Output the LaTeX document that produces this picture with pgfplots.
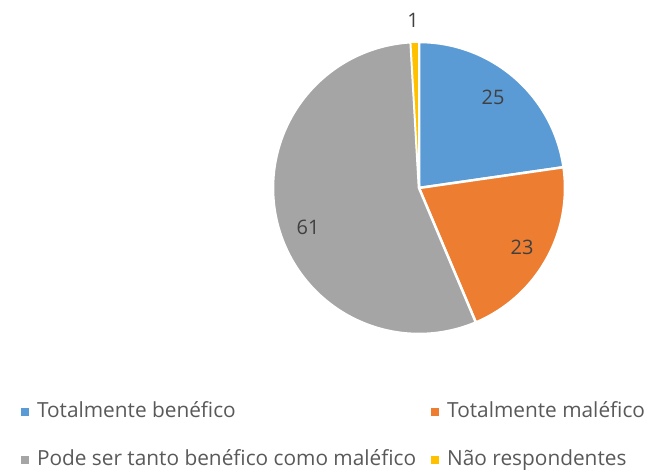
\documentclass[border=0pt]{standalone}
\usepackage{pgfplots}
\pgfplotsset{compat=1.18}
\usepackage{fontspec}
\setmainfont{Open Sans}
\definecolor{cBlue}{HTML}{5B9BD5}
\definecolor{cOrange}{HTML}{ED7D31}
\definecolor{cGray}{HTML}{A5A5A5}
\definecolor{cYellow}{HTML}{FFC000}
\definecolor{legtext}{HTML}{595959}
\definecolor{labtext}{HTML}{404040}
% data values
\newcommand\vA{25}
\newcommand\vB{23}
\newcommand\vC{61}
\newcommand\vD{1}
\begin{document}
\begin{tikzpicture}
\pgfmathsetmacro\tot{\vA+\vB+\vC+\vD}
\pgfmathsetmacro\aA{90}
\pgfmathsetmacro\aB{\aA-\vA/\tot*360}
\pgfmathsetmacro\aC{\aB-\vB/\tot*360}
\pgfmathsetmacro\aD{\aC-\vC/\tot*360}
\pgfmathsetmacro\aE{\aD-\vD/\tot*360}
\def\cx{419}\def\cy{279}\def\R{146}
\begin{axis}[
  width=650bp, height=467bp, scale only axis,
  xmin=0, xmax=650, ymin=0, ymax=467,
  hide axis, clip=false,
  legend columns=2,
  legend cell align=left,
  legend image code/.code={\fill[#1,draw=none] (0bp,-4bp) rectangle (8bp,4bp);},
  legend style={draw=none, fill=none, inner sep=0pt, outer sep=0pt,
    at={(axis cs:21,65)}, anchor=north west,
    font=\fontsize{20.9}{25}\selectfont, text=legtext,
    nodes={inner xsep=0pt, inner ysep=0pt, text height=15bp, text depth=4bp},
    row sep=29bp,
    /tikz/every odd column/.append style={column sep=8bp},
    /tikz/every even column/.append style={column sep=15bp}},
]
\path (axis cs:0,0) rectangle (axis cs:650,467);
\addplot[fill=cBlue, draw=white, line width=2.5bp, domain=\aB:\aA, samples=60, variable=\t]
  ({\cx+\R*cos(\t)},{\cy+\R*sin(\t)}) -- (axis cs:\cx,\cy) -- cycle;
\addlegendentry{Totalmente benéfico}
\addplot[fill=cOrange, draw=white, line width=2.5bp, domain=\aC:\aB, samples=60, variable=\t]
  ({\cx+\R*cos(\t)},{\cy+\R*sin(\t)}) -- (axis cs:\cx,\cy) -- cycle;
\addlegendentry{Totalmente maléfico}
\addplot[fill=cGray, draw=white, line width=2.5bp, domain=\aD:\aC, samples=120, variable=\t]
  ({\cx+\R*cos(\t)},{\cy+\R*sin(\t)}) -- (axis cs:\cx,\cy) -- cycle;
\addlegendentry{Pode ser tanto benéfico como maléfico}
\addplot[fill=cYellow, draw=white, line width=1.5bp, domain=\aE:\aD, samples=6, variable=\t]
  ({\cx+\R*cos(\t)},{\cy+\R*sin(\t)}) -- (axis cs:\cx,\cy) -- cycle;
\addlegendentry{Não respondentes}
\begin{scope}[every node/.style={font=\fontsize{20}{24}\selectfont, text=labtext}]
\node at (axis cs:493,370) {25};
\node at (axis cs:522,220) {23};
\node at (axis cs:308,240) {61};
\node at (axis cs:413,447) {1};
\end{scope}
\end{axis}
\end{tikzpicture}
\end{document}
